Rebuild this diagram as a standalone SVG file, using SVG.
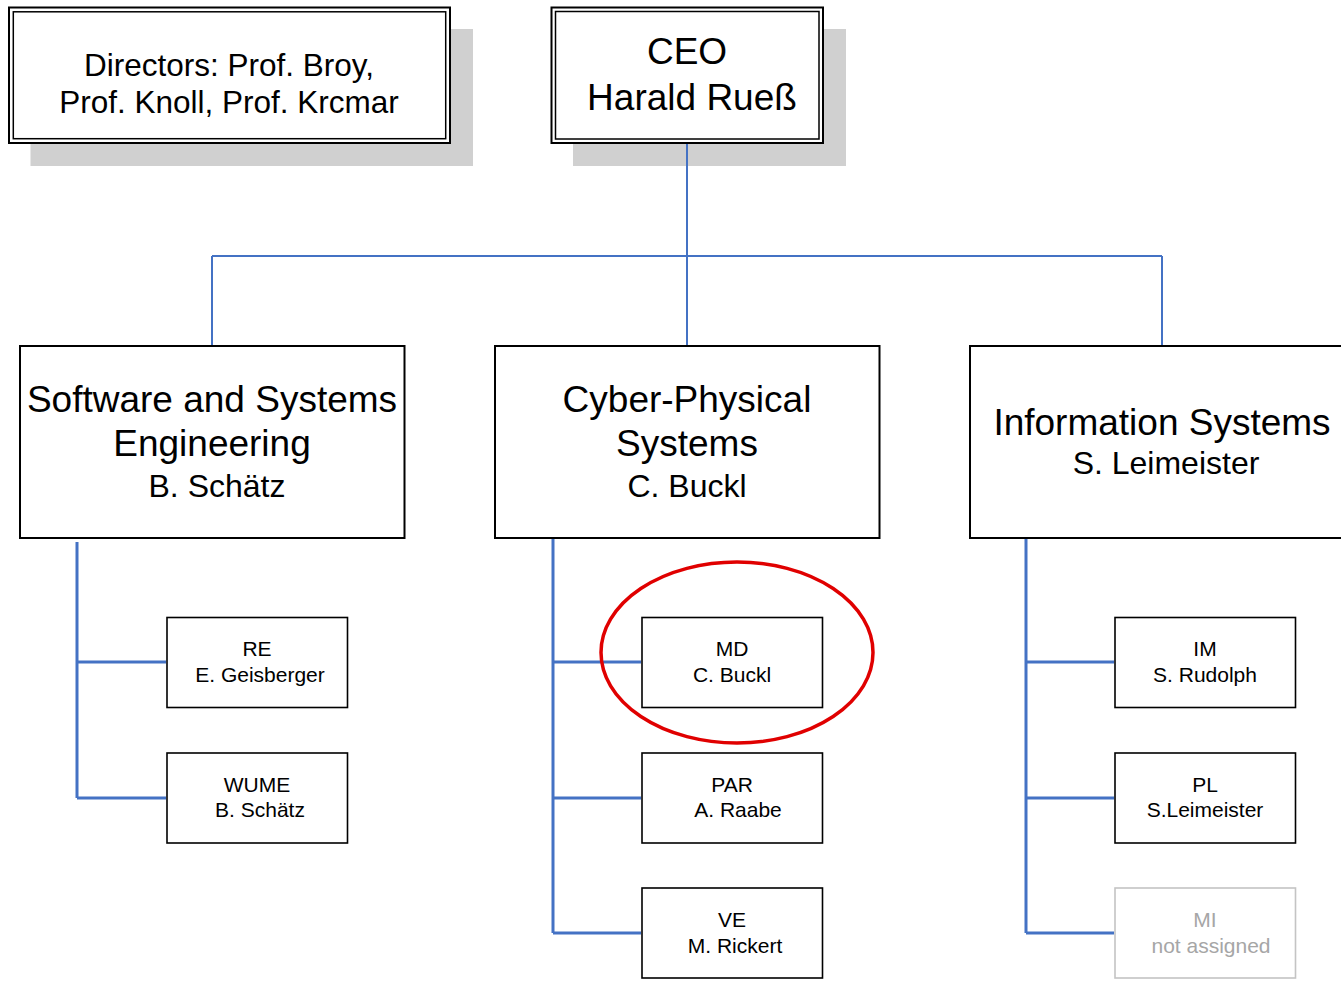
<svg xmlns="http://www.w3.org/2000/svg" width="1341" height="981" viewBox="0 0 1341 981">
<style>
text{font-family:"Liberation Sans",Arial,sans-serif;fill:#000;text-anchor:middle}
.shadow{fill:#d0d0d0}
.outer{fill:#fff;stroke:#000;stroke-width:2}
.inner{fill:none;stroke:#000;stroke-width:1.5}
.main{fill:#fff;stroke:#000;stroke-width:2}
.sub{fill:#fff;stroke:#000;stroke-width:1.6}
.big{font-size:37px}
.mid{font-size:32px}
.dir{font-size:31.5px}
.sm{font-size:21px}
.conn{fill:none;stroke:#4472c4;stroke-width:2}
.conn2{fill:none;stroke:#4472c4;stroke-width:3}
</style>
<rect width="1341" height="981" fill="#fff"/>
<g id="directors">
<rect class="shadow" x="30.5" y="29" width="442.5" height="137"/>
<rect class="outer" x="9" y="7.5" width="441" height="135.5"/>
<rect class="inner" x="13.3" y="11.8" width="432.4" height="126.9"/>
<text class="dir" x="229" y="76">Directors: Prof. Broy,</text>
<text class="dir" x="229" y="113">Prof. Knoll, Prof. Krcmar</text>
</g>
<g id="ceo">
<rect class="shadow" x="573" y="29" width="273" height="137"/>
<rect class="outer" x="551.5" y="7.5" width="271.5" height="135.5"/>
<rect class="inner" x="555.5" y="11.5" width="263.5" height="127.5"/>
<text class="big" x="687" y="64">CEO</text>
<text class="big" x="692" y="110">Harald Rueß</text>
</g>
<g id="sse">
<rect class="main" x="20" y="346" width="384.5" height="192"/>
<text class="big" x="212" y="412">Software and Systems</text>
<text class="big" x="212" y="456">Engineering</text>
<text class="mid" x="217" y="497">B. Schätz</text>
</g>
<g id="cps">
<rect class="main" x="495" y="346" width="384.5" height="192"/>
<text class="big" x="687" y="412">Cyber-Physical</text>
<text class="big" x="687" y="456">Systems</text>
<text class="mid" x="687" y="497">C. Buckl</text>
</g>
<g id="is">
<rect class="main" x="970" y="346" width="384.5" height="192"/>
<text class="big" x="1162" y="435">Information Systems</text>
<text class="mid" x="1166" y="474">S. Leimeister</text>
</g>
<g id="re">
<rect class="sub" x="167" y="617.5" width="180.5" height="90"/>
<text class="sm" x="257" y="656">RE</text>
<text class="sm" x="260" y="682">E. Geisberger</text>
</g>
<g id="wume">
<rect class="sub" x="167" y="753" width="180.5" height="90"/>
<text class="sm" x="257" y="792">WUME</text>
<text class="sm" x="260" y="817">B. Schätz</text>
</g>
<g id="md">
<rect class="sub" x="642" y="617.5" width="180.5" height="90"/>
<text class="sm" x="732" y="656">MD</text>
<text class="sm" x="732" y="682">C. Buckl</text>
</g>
<g id="par">
<rect class="sub" x="642" y="753" width="180.5" height="90"/>
<text class="sm" x="732" y="792">PAR</text>
<text class="sm" x="738" y="817">A. Raabe</text>
</g>
<g id="ve">
<rect class="sub" x="642" y="888" width="180.5" height="90"/>
<text class="sm" x="732" y="927">VE</text>
<text class="sm" x="735" y="953">M. Rickert</text>
</g>
<g id="im">
<rect class="sub" x="1115" y="617.5" width="180.5" height="90"/>
<text class="sm" x="1205" y="656">IM</text>
<text class="sm" x="1205" y="682">S. Rudolph</text>
</g>
<g id="pl">
<rect class="sub" x="1115" y="753" width="180.5" height="90"/>
<text class="sm" x="1205" y="792">PL</text>
<text class="sm" x="1205" y="817">S.Leimeister</text>
</g>
<g id="mi">
<rect x="1115" y="888" width="180.5" height="90" fill="#fff" stroke="#c4c4c4" stroke-width="1.6"/>
<text class="sm" x="1205" y="927" style="fill:#a6a6a6">MI</text>
<text class="sm" x="1211" y="953" style="fill:#a6a6a6">not assigned</text>
</g>
<g id="connectors">
<path class="conn" d="M687 144V345M212 256H1162M212 256V345M1162 256V345"/>
<path class="conn2" d="M77 542V798M77 662H166M77 798H166"/>
<path class="conn2" d="M553 539V933M553 662H641M553 798H641M553 933H641"/>
<path class="conn2" d="M1026 539V933M1026 662H1114M1026 798H1114M1026 933H1114"/>
</g>
<ellipse id="highlight" cx="737" cy="652.5" rx="136" ry="90.5" fill="none" stroke="#e00000" stroke-width="3.5"/>
</svg>
